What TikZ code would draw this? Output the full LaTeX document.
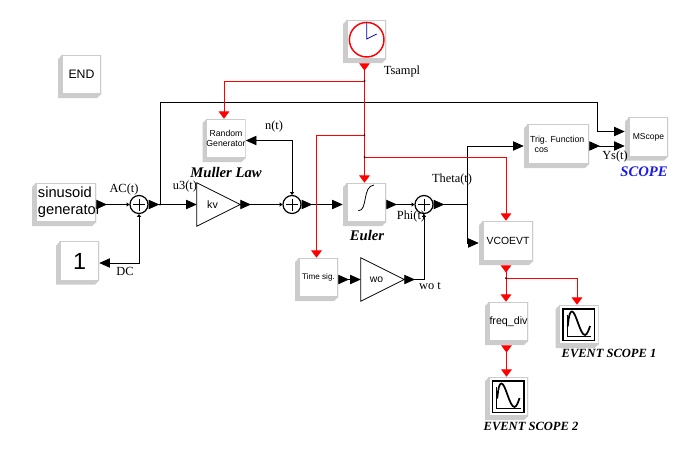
\documentclass[tikz,border=0pt]{standalone}
\usepackage{fontspec}
\setmainfont{Liberation Serif}
\setsansfont{Liberation Sans}
\usepackage{tikz}
\usetikzlibrary{positioning,arrows.meta,calc}
\definecolor{blkshade}{RGB}{204,204,204}
\definecolor{scopeblue}{RGB}{26,26,240}
\newcommand{\fsz}[2]{\fontsize{#1}{#2}\selectfont}
\tikzset{
  inp/.tip={Triangle[length=8pt,width=7pt]},
  outp/.tip={Triangle[reversed,length=8pt,width=7pt]},
  rinp/.tip={Triangle[length=5.5pt,width=8pt]},
  routp/.tip={Triangle[reversed,length=5.5pt,width=8pt]},
  sumtip/.tip={Triangle[length=2pt,width=3pt]},
  wire/.style={line width=0.6pt,black},
  evwire/.style={line width=0.75pt,red},
  blk/.style={rectangle,inner sep=0pt,minimum width=32.25pt,minimum height=32.25pt,
    path picture={
      \coordinate (nw) at (path picture bounding box.north west);
      \coordinate (se) at (path picture bounding box.south east);
      \coordinate (ne) at (path picture bounding box.north east);
      \coordinate (sw) at (path picture bounding box.south west);
      \fill[blkshade] ($(nw)+(4,0)$) -- (ne) -- ($(se)+(0,-4)$) -- ($(se)+(-4,0)$) -- (sw) -- ($(nw)+(0,4)$) -- cycle;
      \fill[white,draw=blkshade,line width=0.8pt] ($(nw)+(4,0)$) rectangle ($(se)+(0,-4)$);
    }},
  blktxt/.style={align=center,inner sep=0pt,xshift=1.5pt,yshift=1.5pt,font=\sffamily},
  sumb/.style={circle,draw,fill=white,line width=0.9pt,inner sep=0pt,minimum size=13.5pt,
    path picture={
      \draw[line width=0.5pt] ($(path picture bounding box.center)+(-6,0)$) -- ($(path picture bounding box.center)+(6,0)$);
      \draw[line width=0.5pt] ($(path picture bounding box.center)+(0,-6)$) -- ($(path picture bounding box.center)+(0,6)$);
    }},
  ampl/.style={rectangle,inner sep=0pt,minimum width=32.25pt,minimum height=32.25pt},
  sig/.style={font=\fsz{9.3}{11}\rmfamily,inner sep=0pt},
  caption/.style={font=\fsz{9.4}{11}\rmfamily\bfseries\itshape,inner sep=0pt},
  scopeicon/.pic={
    \draw[line width=1.1pt] (-14,-17.7) rectangle (17.4,13.8);
    \draw[line width=0.6pt] (-10,-12) -- (-10,9.5) -- (14,9.5);
    \draw[line width=1.3pt] (-9.3,0) .. controls (-8,-12) and (-7,-15) .. (-5,-15)
      .. controls (-1,-15) and (3,8.5) .. (8,8.5) .. controls (10,8.5) and (12,3) .. (13,-0.5);
  },
}
\begin{document}
\begin{tikzpicture}[x=0.75pt,y=-0.75pt]
\useasboundingbox (0,0) rectangle (700,454);
% Blocks
\node[blk,label={[blktxt,font=\fsz{9.2}{11}\sffamily]center:END}] (endb) at (79.5,76.5) {};
\node[blk,minimum width=48pt,label={[blktxt,align=left,font=\fsz{11}{12.75}\sffamily,xshift=2.5pt]center:sinusoid\\generator}] (sine) at (64,204.5) {};
\node[blk,label={[blktxt,font=\fsz{17.5}{20}\sffamily]center:1}] (one) at (77.5,263) {};
\node[blk,label={[blktxt,font=\fsz{6.5}{7.5}\sffamily]center:Random\\Generator}] (rand) at (224,140.5) {};
\node[blk] (integ) at (364.5,204.5) {};
\node[blk] (clock) at (364.5,41.5) {};
\node[blk,minimum width=48.75pt,minimum height=33pt,label={[blktxt,align=left,font=\fsz{6.6}{7.7}\sffamily,xshift=-1pt]center:Trig. Function\\\hspace*{3.5pt}cos}] (trig) at (556.5,146) {};
\node[blk,label={[blktxt,font=\fsz{6.4}{8}\sffamily]center:MScope}] (mscope) at (646.5,139) {};
\node[blk,minimum width=40.5pt,minimum height=33pt,label={[blktxt,font=\fsz{7.8}{9}\sffamily]center:VCOEVT}] (vco) at (506,243) {};
\node[blk,label={[blktxt,font=\fsz{8}{9}\sffamily]center:freq\_div}] (freq) at (506.5,323.5) {};
\node[blk] (evone) at (577,326.5) {};
\node[blk] (evtwo) at (506.5,398.5) {};
\node[blk,label={[blktxt,font=\fsz{6.1}{8}\sffamily]center:Time sig.}] (timesig) at (316.5,279.5) {};
% Gains
\node[ampl,label={[blktxt,font=\fsz{8}{9}\sffamily,xshift=-6pt,yshift=-1.5pt]center:kv}] (kv) at (218.5,204.5) {};
\node[ampl,label={[blktxt,font=\fsz{7.8}{9}\sffamily,xshift=-6pt,yshift=-1.5pt]center:wo}] (wo) at (382.5,279.5) {};
\foreach \n in {kv,wo}
  \draw[line width=0.6pt] (\n.north west) -- (\n.east) -- (\n.south west) -- cycle;
% Summing points
\node[sumb] (sumac) at (139,204.5) {};
\node[sumb] (sumn) at (292,204.5) {};
\node[sumb] (sumphi) at (424,204.5) {};
% Clock face
\draw[red,line width=1.1pt] (366.7,39.7) circle (17.3);
\draw[blue!70!black,line width=0.6pt] (366.7,23) -- (366.7,39) -- (376.7,34);
% Integrator curve
\draw[line width=0.6pt] (358.3,210.7) .. controls (368,211) and (362,186) .. (374,185);
% Scope icons
\pic at (evone) {scopeicon};
\pic at (evtwo) {scopeicon};
% Junctions
\coordinate (fbk) at (160,204.5);
\coordinate (theta) at (467,204.5);
\coordinate (tone) at (364.5,81);
\coordinate (ttwo) at (364.5,135);
\coordinate (tthree) at (364.5,157);
\coordinate (split) at (506,278);
% Signal wires
\draw[wire,outp-sumtip] (sine.east) -- (sumac.west);
\draw[wire,inp-sumtip] (one.east) -| (sumac.south);
\draw[wire,outp-inp] (sumac.east) -- (kv.west);
\draw[wire,-inp] (fbk) |- (597.5,102) |- ($(mscope.west)+(0,-7.5)$);
\draw[wire,outp-sumtip] (kv.east) -- (sumn.west);
\draw[wire,sumtip-inp] (sumn.north) |- (rand.east);
\draw[wire,outp-inp] (sumn.east) -- (integ.west);
\draw[wire,outp-sumtip] (integ.east) -- (sumphi.west);
\draw[wire,outp-] (sumphi.east) -- (theta);
\draw[wire,-inp] (theta) |- (trig.west);
\draw[wire,-inp] (theta) |- (vco.west);
\draw[wire,outp-inp] (trig.east) -- ($(mscope.west)+(0,7)$);
\draw[wire,outp-inp] (timesig.east) -- (wo.west);
\draw[wire,outp-sumtip] (wo.east) -| (sumphi.south);
% Event wires
\draw[evwire,routp-rinp] (clock.south) -- (integ.north);
\draw[evwire,-rinp] (tone) -| (rand.north);
\draw[evwire,-rinp] (ttwo) -| (timesig.north);
\draw[evwire,-rinp] (tthree) -| (vco.north);
\draw[evwire,routp-rinp] (vco.south) -- (freq.north -| vco.south);
\draw[evwire,-rinp] (split) -| (evone.north);
\draw[evwire,routp-rinp] (freq.south) -- (evtwo.north);
% Junction dots
\foreach \p in {fbk,theta,tone,ttwo,tthree,split}
  \fill (\p) circle (1);
% Signal labels
\node[sig] (lac) at (124,190) {AC(t)};
\node[sig] (lu) at (185,187) {u3(t)};
\node[sig] (ln) at (274,127) {n(t)};
\node[sig] (ldc) at (125,271) {DC};
\node[sig] (ltsampl) at (402,72) {Tsampl};
\node[sig] (ltheta) at (452,180) {Theta(t)};
\node[sig] (lphi) at (411,217) {Phi(t)};
\node[sig] (lwot) at (430,286) {wo t};
\node[sig] (lys) at (615,157) {Ys(t)};
% Captions
\node[caption,font=\fsz{11}{13}\rmfamily\bfseries\itshape] (cmuller) at (226,172) {Muller Law};
\node[caption,font=\fsz{11}{13}\rmfamily\bfseries\itshape] (ceuler) at (367,235) {Euler};
\node[caption,font=\fsz{11}{13}\rmfamily\bfseries\itshape,scopeblue] (cscope) at (644,172) {SCOPE};
\node[caption] (cevone) at (609,353) {EVENT SCOPE 1};
\node[caption] (cevtwo) at (531,426) {EVENT SCOPE 2};
\end{tikzpicture}
\end{document}
